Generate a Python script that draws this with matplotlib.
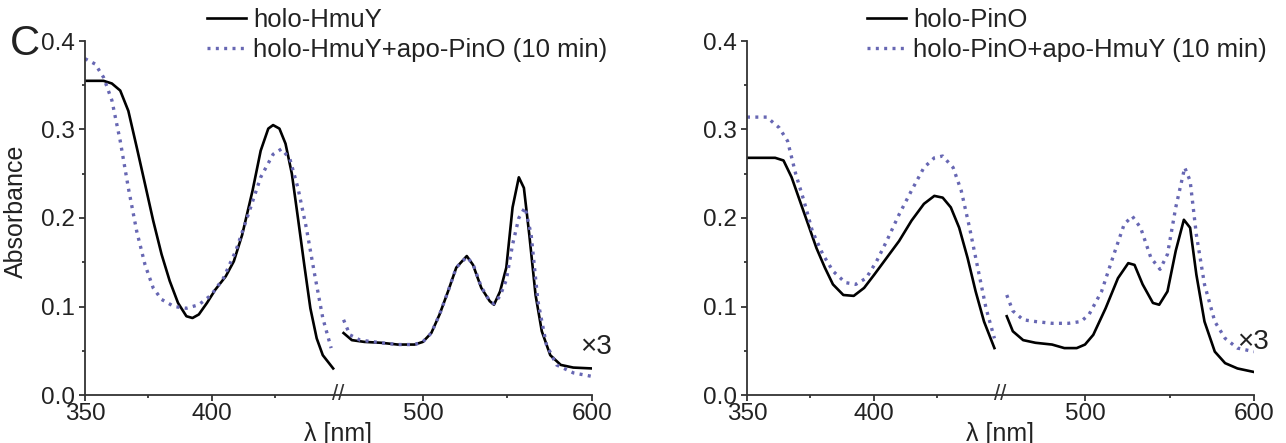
import numpy as np
import matplotlib
matplotlib.use("Agg")
import matplotlib.pyplot as plt
from matplotlib.ticker import FormatStrFormatter

plt.rcParams['font.family'] = ['Liberation Sans', 'DejaVu Sans']

# ---- left panel: holo-HmuY (solid) and holo-HmuY + apo-PinO (dotted)
hmuy_wl_a = [350, 357.3, 360.6, 363.9, 367.1, 370.4, 373.7, 376.9, 380.2, 383.4, 386.7, 390.0,
             392.4, 394.9, 398.1, 401.4, 405.5, 408.7, 412.0, 416.1, 419.3, 422.3, 424.2, 426.7,
             429.1, 431.6, 434.0, 436.5, 438.9, 441.4, 443.8, 447.9]
hmuy_a = [0.355, 0.355, 0.352, 0.344, 0.321, 0.280, 0.238, 0.197, 0.159, 0.129, 0.104, 0.089,
          0.087, 0.091, 0.104, 0.119, 0.134, 0.151, 0.181, 0.231, 0.276, 0.301, 0.305, 0.301,
          0.284, 0.250, 0.200, 0.147, 0.098, 0.064, 0.045, 0.030]
hmuy_wl_b = [453, 457.9, 465.3, 475.2, 485.1, 495, 499.9, 504.9, 509.8, 514.8, 519.7, 525.9,
             529.6, 534.5, 539.5, 542, 545.6, 549.3, 553.0, 556.7, 559.7, 562.9, 566.6, 570.3,
             575.3, 581.5, 588.9, 600]
hmuy_b = [0.070, 0.062, 0.060, 0.059, 0.057, 0.057, 0.060, 0.070, 0.091, 0.117, 0.144, 0.157,
          0.147, 0.121, 0.106, 0.102, 0.117, 0.144, 0.212, 0.246, 0.234, 0.181, 0.113, 0.072,
          0.045, 0.034, 0.031, 0.030]

mix1_wl_a = [350, 354, 357.3, 360.6, 363.9, 367.1, 370.4, 373.7, 376.9, 380.2, 385.1, 390,
             394.9, 399.8, 404.6, 409.5, 414.4, 419.3, 424.2, 427.5, 430.8, 434.0, 437.3, 440.6,
             443.8, 447.1]
mix1_a = [0.380, 0.374, 0.359, 0.333, 0.287, 0.234, 0.185, 0.147, 0.121, 0.108, 0.100, 0.098,
          0.102, 0.113, 0.132, 0.163, 0.204, 0.246, 0.272, 0.278, 0.267, 0.234, 0.189, 0.136,
          0.087, 0.053]
mix1_wl_b = [453, 456.7, 462.8, 475.2, 485.1, 495, 499.9, 504.9, 509.8, 514.8, 519.7, 525.9,
             529.6, 534.5, 539.5, 542, 545.6, 549.3, 553.0, 556.7, 560.4, 564.0, 568.0, 573.0,
             579.0, 589.0, 600]
mix1_b = [0.085, 0.068, 0.062, 0.059, 0.057, 0.057, 0.060, 0.070, 0.091, 0.117, 0.144, 0.156,
          0.148, 0.122, 0.106, 0.103, 0.112, 0.130, 0.170, 0.200, 0.212, 0.181, 0.106, 0.057,
          0.034, 0.025, 0.021]

# ---- right panel: holo-PinO (solid) and holo-PinO + apo-HmuY (dotted)
pino_wl_a = [350, 361.1, 364.4, 367.6, 370.9, 374.1, 377.4, 380.7, 383.9, 388.0, 392.1, 396.2,
             400.2, 405.1, 410.0, 414.9, 419.8, 423.9, 427.2, 430.4, 433.7, 437.0, 440.2, 443.5,
             447.6]
pino_a = [0.268, 0.268, 0.265, 0.246, 0.219, 0.193, 0.166, 0.144, 0.125, 0.113, 0.112, 0.121,
          0.136, 0.155, 0.174, 0.197, 0.216, 0.225, 0.223, 0.212, 0.189, 0.155, 0.117, 0.083,
          0.053]
pino_wl_b = [453.7, 457.3, 463.4, 470.7, 480.5, 487.8, 495.1, 500, 504.9, 512.2, 519.5, 525.6,
             529.3, 534.1, 540.2, 543.9, 548.8, 553.7, 558.5, 562.2, 565.9, 570.7, 576.8, 582.9,
             590.2, 600]
pino_b = [0.089, 0.072, 0.062, 0.059, 0.057, 0.053, 0.053, 0.057, 0.068, 0.098, 0.132, 0.149,
          0.147, 0.125, 0.104, 0.102, 0.117, 0.163, 0.198, 0.189, 0.136, 0.083, 0.049, 0.036,
          0.030, 0.026]

mix2_wl_a = [350, 357.8, 362.7, 366.0, 369.2, 372.5, 375.8, 379.9, 383.9, 388.8, 392.9, 397.0,
             401.1, 405.1, 410.0, 414.9, 419.8, 423.9, 427.2, 431.3, 434.5, 437.8, 441.0, 444.3,
             447.6]
mix2_a = [0.314, 0.314, 0.302, 0.287, 0.250, 0.219, 0.185, 0.159, 0.140, 0.127, 0.125, 0.132,
          0.151, 0.174, 0.204, 0.231, 0.257, 0.268, 0.270, 0.257, 0.231, 0.189, 0.144, 0.098,
          0.064]
mix2_wl_b = [453.7, 457.3, 463.4, 470.7, 480.5, 490.2, 497.6, 502.4, 509.8, 517.1, 523.2, 528.0,
             532.9, 539.0, 544.4, 548.8, 553.7, 559.0, 562.2, 565.9, 570.7, 576.8, 582.9, 590.2,
             600]
mix2_b = [0.113, 0.095, 0.085, 0.083, 0.081, 0.081, 0.083, 0.091, 0.117, 0.159, 0.193, 0.202,
          0.189, 0.155, 0.142, 0.159, 0.212, 0.257, 0.242, 0.181, 0.125, 0.083, 0.064, 0.053,
          0.049]

labels_left = ['holo-HmuY', 'holo-HmuY+apo-PinO (10 min)']
labels_right = ['holo-PinO', 'holo-PinO+apo-HmuY (10 min)']


def fwd(x):
    x = np.asarray(x, dtype=float)
    return np.where(x <= 450, (x - 350) / 100.0, 1 + (x - 450) / 150.0)


def inv(u):
    u = np.asarray(u, dtype=float)
    return np.where(u <= 1, 350 + 100.0 * u, 450 + 150.0 * (u - 1))


W, H = 1286, 443
fig = plt.figure(figsize=(W / 100, H / 100), dpi=100)

dot_col = '#6767b3'
dots = (0, (0.9, 1.6))
txt = '#222222'


def panel(left_px, solid, dotted, labels, legend_x, x3_pos):
    ax = fig.add_axes([left_px / W, 1 - 395 / H, 507 / W, 354 / H])
    ax.set_xscale('function', functions=(fwd, inv))
    (wa, ya, wb, yb) = solid
    (dwa, dya, dwb, dyb) = dotted
    l1, = ax.plot(wa, ya, color='black', lw=1.9)
    ax.plot(wb, yb, color='black', lw=1.9)
    l2, = ax.plot(dwa, dya, color=dot_col, lw=2.4, linestyle=dots)
    ax.plot(dwb, dyb, color=dot_col, lw=2.4, linestyle=dots)
    ax.set_xlim(350, 600)
    ax.set_ylim(0, 0.4)
    ax.set_xticks([350, 400, 500, 600])
    ax.set_xticks([375, 425, 550], minor=True)
    ax.set_yticks(np.arange(0, 0.41, 0.1))
    ax.set_yticks(np.arange(0.05, 0.4, 0.1), minor=True)
    ax.yaxis.set_major_formatter(FormatStrFormatter('%.1f'))
    ax.xaxis.set_major_formatter(FormatStrFormatter('%d'))
    for s in ['top', 'right']:
        ax.spines[s].set_visible(False)
    for s in ['left', 'bottom']:
        ax.spines[s].set_linewidth(1.3)
        ax.spines[s].set_color('#333333')
    ax.tick_params(which='major', direction='out', length=4, width=1.3,
                   labelsize=17.5, colors='#333333', labelcolor=txt)
    ax.tick_params(axis='x', which='major', pad=2)
    ax.tick_params(axis='y', which='major', pad=3)
    ax.tick_params(which='minor', direction='out', length=2, width=1.3, colors='#333333')
    ax.set_xlabel('λ [nm]', fontsize=18, color=txt)
    ax.xaxis.set_label_coords(0.5, -0.075)
    ax.text(450, 0, '//', fontsize=16, ha='center', va='center', color='#333333',
            clip_on=False)
    ax.text(x3_pos[0], x3_pos[1], '×3', fontsize=20, ha='left', va='center',
            color=txt, clip_on=False)
    fig.legend([l1, l2], labels, loc='upper left',
               bbox_to_anchor=(legend_x / W, 1 - 8 / H), frameon=False,
               borderpad=0, borderaxespad=0, handlelength=1.5, handletextpad=0.3,
               labelspacing=0.22, fontsize=18.5, labelcolor=txt)
    return ax


ax1 = panel(85, (hmuy_wl_a, hmuy_a, hmuy_wl_b, hmuy_b),
            (mix1_wl_a, mix1_a, mix1_wl_b, mix1_b), labels_left, 207, (593, 0.054))
ax1.set_ylabel('Absorbance', fontsize=18, color=txt)
ax1.yaxis.set_label_coords(-0.112, 0.52)

ax2 = panel(747, (pino_wl_a, pino_a, pino_wl_b, pino_b),
            (mix2_wl_a, mix2_a, mix2_wl_b, mix2_b), labels_right, 867, (590, 0.06))

fig.text(10 / W, 1 - 44 / H, 'C', fontsize=30, ha='left', va='center', color=txt)

fig.savefig('out.png', dpi=100)
